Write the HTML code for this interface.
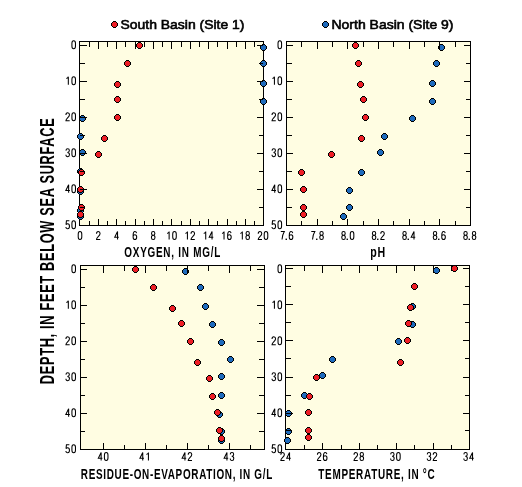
<!DOCTYPE html>
<html><head><meta charset="utf-8"><style>
html,body{margin:0;padding:0;background:#fff;}
svg{display:block;will-change:transform;}
</style></head><body>
<svg width="522" height="487" viewBox="0 0 522 487">
<rect width="522" height="487" fill="#fff"/>
<g shape-rendering="crispEdges"><rect x="79" y="41" width="185" height="185" fill="#fffde2"/><rect x="286" y="41" width="185" height="185" fill="#fffde2"/><rect x="80" y="265" width="185" height="185" fill="#fffde2"/><rect x="285" y="265" width="185" height="185" fill="#fffde2"/></g>
<g shape-rendering="crispEdges"><path d="M79.5,41.5H263.5V225.5H79.5Z" fill="none" stroke="#000"/><path d="M286.5,41.5H470.5V225.5H286.5Z" fill="none" stroke="#000"/><path d="M80.5,265.5H264.5V449.5H80.5Z" fill="none" stroke="#000"/><path d="M285.5,265.5H469.5V449.5H285.5Z" fill="none" stroke="#000"/></g>
<g shape-rendering="crispEdges"><path d="M262,44H265V45H266V46H267V49H266V50H265V51H262V50H261V49H260V46H261V45H262Z" fill="#000"/><path d="M262,45H265V46H266V49H265V50H262V49H261V46H262Z" fill="#1f6bbd"/>
<path d="M262,60H265V61H266V62H267V65H266V66H265V67H262V66H261V65H260V62H261V61H262Z" fill="#000"/><path d="M262,61H265V62H266V65H265V66H262V65H261V62H262Z" fill="#1f6bbd"/>
<path d="M262,80H265V81H266V82H267V85H266V86H265V87H262V86H261V85H260V82H261V81H262Z" fill="#000"/><path d="M262,81H265V82H266V85H265V86H262V85H261V82H262Z" fill="#1f6bbd"/>
<path d="M262,98H265V99H266V100H267V103H266V104H265V105H262V104H261V103H260V100H261V99H262Z" fill="#000"/><path d="M262,99H265V100H266V103H265V104H262V103H261V100H262Z" fill="#1f6bbd"/>
<path d="M81,115H84V116H85V117H86V120H85V121H84V122H81V121H80V120H79V117H80V116H81Z" fill="#000"/><path d="M81,116H84V117H85V120H84V121H81V120H80V117H81Z" fill="#1f6bbd"/>
<path d="M79,133H82V134H83V135H84V138H83V139H82V140H79V139H78V138H77V135H78V134H79Z" fill="#000"/><path d="M79,134H82V135H83V138H82V139H79V138H78V135H79Z" fill="#1f6bbd"/>
<path d="M81,149H84V150H85V151H86V154H85V155H84V156H81V155H80V154H79V151H80V150H81Z" fill="#000"/><path d="M81,150H84V151H85V154H84V155H81V154H80V151H81Z" fill="#1f6bbd"/>
<path d="M79,168H82V169H83V170H84V173H83V174H82V175H79V174H78V173H77V170H78V169H79Z" fill="#000"/><path d="M79,169H82V170H83V173H82V174H79V173H78V170H79Z" fill="#1f6bbd"/>
<path d="M79,188H82V189H83V190H84V193H83V194H82V195H79V194H78V193H77V190H78V189H79Z" fill="#000"/><path d="M79,189H82V190H83V193H82V194H79V193H78V190H79Z" fill="#1f6bbd"/>
<path d="M79,207H82V208H83V209H84V212H83V213H82V214H79V213H78V212H77V209H78V208H79Z" fill="#000"/><path d="M79,208H82V209H83V212H82V213H79V212H78V209H79Z" fill="#1f6bbd"/>
<path d="M79,213H82V214H83V215H84V218H83V219H82V220H79V219H78V218H77V215H78V214H79Z" fill="#000"/><path d="M79,214H82V215H83V218H82V219H79V218H78V215H79Z" fill="#1f6bbd"/>
<path d="M138,42H141V43H142V44H143V47H142V48H141V49H138V48H137V47H136V44H137V43H138Z" fill="#000"/><path d="M138,43H141V44H142V47H141V48H138V47H137V44H138Z" fill="#ee1f27"/>
<path d="M126,60H129V61H130V62H131V65H130V66H129V67H126V66H125V65H124V62H125V61H126Z" fill="#000"/><path d="M126,61H129V62H130V65H129V66H126V65H125V62H126Z" fill="#ee1f27"/>
<path d="M116,81H119V82H120V83H121V86H120V87H119V88H116V87H115V86H114V83H115V82H116Z" fill="#000"/><path d="M116,82H119V83H120V86H119V87H116V86H115V83H116Z" fill="#ee1f27"/>
<path d="M116,96H119V97H120V98H121V101H120V102H119V103H116V102H115V101H114V98H115V97H116Z" fill="#000"/><path d="M116,97H119V98H120V101H119V102H116V101H115V98H116Z" fill="#ee1f27"/>
<path d="M116,114H119V115H120V116H121V119H120V120H119V121H116V120H115V119H114V116H115V115H116Z" fill="#000"/><path d="M116,115H119V116H120V119H119V120H116V119H115V116H116Z" fill="#ee1f27"/>
<path d="M103,135H106V136H107V137H108V140H107V141H106V142H103V141H102V140H101V137H102V136H103Z" fill="#000"/><path d="M103,136H106V137H107V140H106V141H103V140H102V137H103Z" fill="#ee1f27"/>
<path d="M97,151H100V152H101V153H102V156H101V157H100V158H97V157H96V156H95V153H96V152H97Z" fill="#000"/><path d="M97,152H100V153H101V156H100V157H97V156H96V153H97Z" fill="#ee1f27"/>
<path d="M80,169H83V170H84V171H85V174H84V175H83V176H80V175H79V174H78V171H79V170H80Z" fill="#000"/><path d="M80,170H83V171H84V174H83V175H80V174H79V171H80Z" fill="#ee1f27"/>
<path d="M79,186H82V187H83V188H84V191H83V192H82V193H79V192H78V191H77V188H78V187H79Z" fill="#000"/><path d="M79,187H82V188H83V191H82V192H79V191H78V188H79Z" fill="#ee1f27"/>
<path d="M80,204H83V205H84V206H85V209H84V210H83V211H80V210H79V209H78V206H79V205H80Z" fill="#000"/><path d="M80,205H83V206H84V209H83V210H80V209H79V206H80Z" fill="#ee1f27"/>
<path d="M79,211H82V212H83V213H84V216H83V217H82V218H79V217H78V216H77V213H78V212H79Z" fill="#000"/><path d="M79,212H82V213H83V216H82V217H79V216H78V213H79Z" fill="#ee1f27"/>
<path d="M440,44H443V45H444V46H445V49H444V50H443V51H440V50H439V49H438V46H439V45H440Z" fill="#000"/><path d="M440,45H443V46H444V49H443V50H440V49H439V46H440Z" fill="#1f6bbd"/>
<path d="M435,60H438V61H439V62H440V65H439V66H438V67H435V66H434V65H433V62H434V61H435Z" fill="#000"/><path d="M435,61H438V62H439V65H438V66H435V65H434V62H435Z" fill="#1f6bbd"/>
<path d="M431,80H434V81H435V82H436V85H435V86H434V87H431V86H430V85H429V82H430V81H431Z" fill="#000"/><path d="M431,81H434V82H435V85H434V86H431V85H430V82H431Z" fill="#1f6bbd"/>
<path d="M431,98H434V99H435V100H436V103H435V104H434V105H431V104H430V103H429V100H430V99H431Z" fill="#000"/><path d="M431,99H434V100H435V103H434V104H431V103H430V100H431Z" fill="#1f6bbd"/>
<path d="M411,115H414V116H415V117H416V120H415V121H414V122H411V121H410V120H409V117H410V116H411Z" fill="#000"/><path d="M411,116H414V117H415V120H414V121H411V120H410V117H411Z" fill="#1f6bbd"/>
<path d="M383,133H386V134H387V135H388V138H387V139H386V140H383V139H382V138H381V135H382V134H383Z" fill="#000"/><path d="M383,134H386V135H387V138H386V139H383V138H382V135H383Z" fill="#1f6bbd"/>
<path d="M379,149H382V150H383V151H384V154H383V155H382V156H379V155H378V154H377V151H378V150H379Z" fill="#000"/><path d="M379,150H382V151H383V154H382V155H379V154H378V151H379Z" fill="#1f6bbd"/>
<path d="M360,169H363V170H364V171H365V174H364V175H363V176H360V175H359V174H358V171H359V170H360Z" fill="#000"/><path d="M360,170H363V171H364V174H363V175H360V174H359V171H360Z" fill="#1f6bbd"/>
<path d="M348,187H351V188H352V189H353V192H352V193H351V194H348V193H347V192H346V189H347V188H348Z" fill="#000"/><path d="M348,188H351V189H352V192H351V193H348V192H347V189H348Z" fill="#1f6bbd"/>
<path d="M348,204H351V205H352V206H353V209H352V210H351V211H348V210H347V209H346V206H347V205H348Z" fill="#000"/><path d="M348,205H351V206H352V209H351V210H348V209H347V206H348Z" fill="#1f6bbd"/>
<path d="M342,213H345V214H346V215H347V218H346V219H345V220H342V219H341V218H340V215H341V214H342Z" fill="#000"/><path d="M342,214H345V215H346V218H345V219H342V218H341V215H342Z" fill="#1f6bbd"/>
<path d="M354,42H357V43H358V44H359V47H358V48H357V49H354V48H353V47H352V44H353V43H354Z" fill="#000"/><path d="M354,43H357V44H358V47H357V48H354V47H353V44H354Z" fill="#ee1f27"/>
<path d="M357,60H360V61H361V62H362V65H361V66H360V67H357V66H356V65H355V62H356V61H357Z" fill="#000"/><path d="M357,61H360V62H361V65H360V66H357V65H356V62H357Z" fill="#ee1f27"/>
<path d="M359,81H362V82H363V83H364V86H363V87H362V88H359V87H358V86H357V83H358V82H359Z" fill="#000"/><path d="M359,82H362V83H363V86H362V87H359V86H358V83H359Z" fill="#ee1f27"/>
<path d="M362,96H365V97H366V98H367V101H366V102H365V103H362V102H361V101H360V98H361V97H362Z" fill="#000"/><path d="M362,97H365V98H366V101H365V102H362V101H361V98H362Z" fill="#ee1f27"/>
<path d="M364,114H367V115H368V116H369V119H368V120H367V121H364V120H363V119H362V116H363V115H364Z" fill="#000"/><path d="M364,115H367V116H368V119H367V120H364V119H363V116H364Z" fill="#ee1f27"/>
<path d="M360,135H363V136H364V137H365V140H364V141H363V142H360V141H359V140H358V137H359V136H360Z" fill="#000"/><path d="M360,136H363V137H364V140H363V141H360V140H359V137H360Z" fill="#ee1f27"/>
<path d="M330,151H333V152H334V153H335V156H334V157H333V158H330V157H329V156H328V153H329V152H330Z" fill="#000"/><path d="M330,152H333V153H334V156H333V157H330V156H329V153H330Z" fill="#ee1f27"/>
<path d="M300,169H303V170H304V171H305V174H304V175H303V176H300V175H299V174H298V171H299V170H300Z" fill="#000"/><path d="M300,170H303V171H304V174H303V175H300V174H299V171H300Z" fill="#ee1f27"/>
<path d="M302,186H305V187H306V188H307V191H306V192H305V193H302V192H301V191H300V188H301V187H302Z" fill="#000"/><path d="M302,187H305V188H306V191H305V192H302V191H301V188H302Z" fill="#ee1f27"/>
<path d="M302,204H305V205H306V206H307V209H306V210H305V211H302V210H301V209H300V206H301V205H302Z" fill="#000"/><path d="M302,205H305V206H306V209H305V210H302V209H301V206H302Z" fill="#ee1f27"/>
<path d="M302,211H305V212H306V213H307V216H306V217H305V218H302V217H301V216H300V213H301V212H302Z" fill="#000"/><path d="M302,212H305V213H306V216H305V217H302V216H301V213H302Z" fill="#ee1f27"/>
<path d="M184,268H187V269H188V270H189V273H188V274H187V275H184V274H183V273H182V270H183V269H184Z" fill="#000"/><path d="M184,269H187V270H188V273H187V274H184V273H183V270H184Z" fill="#1f6bbd"/>
<path d="M199,284H202V285H203V286H204V289H203V290H202V291H199V290H198V289H197V286H198V285H199Z" fill="#000"/><path d="M199,285H202V286H203V289H202V290H199V289H198V286H199Z" fill="#1f6bbd"/>
<path d="M204,303H207V304H208V305H209V308H208V309H207V310H204V309H203V308H202V305H203V304H204Z" fill="#000"/><path d="M204,304H207V305H208V308H207V309H204V308H203V305H204Z" fill="#1f6bbd"/>
<path d="M211,321H214V322H215V323H216V326H215V327H214V328H211V327H210V326H209V323H210V322H211Z" fill="#000"/><path d="M211,322H214V323H215V326H214V327H211V326H210V323H211Z" fill="#1f6bbd"/>
<path d="M220,339H223V340H224V341H225V344H224V345H223V346H220V345H219V344H218V341H219V340H220Z" fill="#000"/><path d="M220,340H223V341H224V344H223V345H220V344H219V341H220Z" fill="#1f6bbd"/>
<path d="M229,356H232V357H233V358H234V361H233V362H232V363H229V362H228V361H227V358H228V357H229Z" fill="#000"/><path d="M229,357H232V358H233V361H232V362H229V361H228V358H229Z" fill="#1f6bbd"/>
<path d="M220,373H223V374H224V375H225V378H224V379H223V380H220V379H219V378H218V375H219V374H220Z" fill="#000"/><path d="M220,374H223V375H224V378H223V379H220V378H219V375H220Z" fill="#1f6bbd"/>
<path d="M220,392H223V393H224V394H225V397H224V398H223V399H220V398H219V397H218V394H219V393H220Z" fill="#000"/><path d="M220,393H223V394H224V397H223V398H220V397H219V394H220Z" fill="#1f6bbd"/>
<path d="M218,411H221V412H222V413H223V416H222V417H221V418H218V417H217V416H216V413H217V412H218Z" fill="#000"/><path d="M218,412H221V413H222V416H221V417H218V416H217V413H218Z" fill="#1f6bbd"/>
<path d="M220,428H223V429H224V430H225V433H224V434H223V435H220V434H219V433H218V430H219V429H220Z" fill="#000"/><path d="M220,429H223V430H224V433H223V434H220V433H219V430H220Z" fill="#1f6bbd"/>
<path d="M220,437H223V438H224V439H225V442H224V443H223V444H220V443H219V442H218V439H219V438H220Z" fill="#000"/><path d="M220,438H223V439H224V442H223V443H220V442H219V439H220Z" fill="#1f6bbd"/>
<path d="M134,266H137V267H138V268H139V271H138V272H137V273H134V272H133V271H132V268H133V267H134Z" fill="#000"/><path d="M134,267H137V268H138V271H137V272H134V271H133V268H134Z" fill="#ee1f27"/>
<path d="M152,284H155V285H156V286H157V289H156V290H155V291H152V290H151V289H150V286H151V285H152Z" fill="#000"/><path d="M152,285H155V286H156V289H155V290H152V289H151V286H152Z" fill="#ee1f27"/>
<path d="M171,305H174V306H175V307H176V310H175V311H174V312H171V311H170V310H169V307H170V306H171Z" fill="#000"/><path d="M171,306H174V307H175V310H174V311H171V310H170V307H171Z" fill="#ee1f27"/>
<path d="M180,320H183V321H184V322H185V325H184V326H183V327H180V326H179V325H178V322H179V321H180Z" fill="#000"/><path d="M180,321H183V322H184V325H183V326H180V325H179V322H180Z" fill="#ee1f27"/>
<path d="M189,338H192V339H193V340H194V343H193V344H192V345H189V344H188V343H187V340H188V339H189Z" fill="#000"/><path d="M189,339H192V340H193V343H192V344H189V343H188V340H189Z" fill="#ee1f27"/>
<path d="M196,359H199V360H200V361H201V364H200V365H199V366H196V365H195V364H194V361H195V360H196Z" fill="#000"/><path d="M196,360H199V361H200V364H199V365H196V364H195V361H196Z" fill="#ee1f27"/>
<path d="M208,375H211V376H212V377H213V380H212V381H211V382H208V381H207V380H206V377H207V376H208Z" fill="#000"/><path d="M208,376H211V377H212V380H211V381H208V380H207V377H208Z" fill="#ee1f27"/>
<path d="M211,393H214V394H215V395H216V398H215V399H214V400H211V399H210V398H209V395H210V394H211Z" fill="#000"/><path d="M211,394H214V395H215V398H214V399H211V398H210V395H211Z" fill="#ee1f27"/>
<path d="M216,409H219V410H220V411H221V414H220V415H219V416H216V415H215V414H214V411H215V410H216Z" fill="#000"/><path d="M216,410H219V411H220V414H219V415H216V414H215V411H216Z" fill="#ee1f27"/>
<path d="M218,427H221V428H222V429H223V432H222V433H221V434H218V433H217V432H216V429H217V428H218Z" fill="#000"/><path d="M218,428H221V429H222V432H221V433H218V432H217V429H218Z" fill="#ee1f27"/>
<path d="M220,435H223V436H224V437H225V440H224V441H223V442H220V441H219V440H218V437H219V436H220Z" fill="#000"/><path d="M220,436H223V437H224V440H223V441H220V440H219V437H220Z" fill="#ee1f27"/>
<path d="M435,267H438V268H439V269H440V272H439V273H438V274H435V273H434V272H433V269H434V268H435Z" fill="#000"/><path d="M435,268H438V269H439V272H438V273H435V272H434V269H435Z" fill="#1f6bbd"/>
<path d="M411,303H414V304H415V305H416V308H415V309H414V310H411V309H410V308H409V305H410V304H411Z" fill="#000"/><path d="M411,304H414V305H415V308H414V309H411V308H410V305H411Z" fill="#1f6bbd"/>
<path d="M411,321H414V322H415V323H416V326H415V327H414V328H411V327H410V326H409V323H410V322H411Z" fill="#000"/><path d="M411,322H414V323H415V326H414V327H411V326H410V323H411Z" fill="#1f6bbd"/>
<path d="M397,338H400V339H401V340H402V343H401V344H400V345H397V344H396V343H395V340H396V339H397Z" fill="#000"/><path d="M397,339H400V340H401V343H400V344H397V343H396V340H397Z" fill="#1f6bbd"/>
<path d="M331,356H334V357H335V358H336V361H335V362H334V363H331V362H330V361H329V358H330V357H331Z" fill="#000"/><path d="M331,357H334V358H335V361H334V362H331V361H330V358H331Z" fill="#1f6bbd"/>
<path d="M303,392H306V393H307V394H308V397H307V398H306V399H303V398H302V397H301V394H302V393H303Z" fill="#000"/><path d="M303,393H306V394H307V397H306V398H303V397H302V394H303Z" fill="#1f6bbd"/>
<path d="M287,410H290V411H291V412H292V415H291V416H290V417H287V416H286V415H285V412H286V411H287Z" fill="#000"/><path d="M287,411H290V412H291V415H290V416H287V415H286V412H287Z" fill="#1f6bbd"/>
<path d="M287,428H290V429H291V430H292V433H291V434H290V435H287V434H286V433H285V430H286V429H287Z" fill="#000"/><path d="M287,429H290V430H291V433H290V434H287V433H286V430H287Z" fill="#1f6bbd"/>
<path d="M286,437H289V438H290V439H291V442H290V443H289V444H286V443H285V442H284V439H285V438H286Z" fill="#000"/><path d="M286,438H289V439H290V442H289V443H286V442H285V439H286Z" fill="#1f6bbd"/>
<path d="M453,265H456V266H457V267H458V270H457V271H456V272H453V271H452V270H451V267H452V266H453Z" fill="#000"/><path d="M453,266H456V267H457V270H456V271H453V270H452V267H453Z" fill="#ee1f27"/>
<path d="M413,283H416V284H417V285H418V288H417V289H416V290H413V289H412V288H411V285H412V284H413Z" fill="#000"/><path d="M413,284H416V285H417V288H416V289H413V288H412V285H413Z" fill="#ee1f27"/>
<path d="M409,304H412V305H413V306H414V309H413V310H412V311H409V310H408V309H407V306H408V305H409Z" fill="#000"/><path d="M409,305H412V306H413V309H412V310H409V309H408V306H409Z" fill="#ee1f27"/>
<path d="M407,320H410V321H411V322H412V325H411V326H410V327H407V326H406V325H405V322H406V321H407Z" fill="#000"/><path d="M407,321H410V322H411V325H410V326H407V325H406V322H407Z" fill="#ee1f27"/>
<path d="M406,337H409V338H410V339H411V342H410V343H409V344H406V343H405V342H404V339H405V338H406Z" fill="#000"/><path d="M406,338H409V339H410V342H409V343H406V342H405V339H406Z" fill="#ee1f27"/>
<path d="M399,359H402V360H403V361H404V364H403V365H402V366H399V365H398V364H397V361H398V360H399Z" fill="#000"/><path d="M399,360H402V361H403V364H402V365H399V364H398V361H399Z" fill="#ee1f27"/>
<path d="M315,374H318V375H319V376H320V379H319V380H318V381H315V380H314V379H313V376H314V375H315Z" fill="#000"/><path d="M315,375H318V376H319V379H318V380H315V379H314V376H315Z" fill="#ee1f27"/>
<path d="M308,393H311V394H312V395H313V398H312V399H311V400H308V399H307V398H306V395H307V394H308Z" fill="#000"/><path d="M308,394H311V395H312V398H311V399H308V398H307V395H308Z" fill="#ee1f27"/>
<path d="M307,409H310V410H311V411H312V414H311V415H310V416H307V415H306V414H305V411H306V410H307Z" fill="#000"/><path d="M307,410H310V411H311V414H310V415H307V414H306V411H307Z" fill="#ee1f27"/>
<path d="M307,427H310V428H311V429H312V432H311V433H310V434H307V433H306V432H305V429H306V428H307Z" fill="#000"/><path d="M307,428H310V429H311V432H310V433H307V432H306V429H307Z" fill="#ee1f27"/>
<path d="M307,434H310V435H311V436H312V439H311V440H310V441H307V440H306V439H305V436H306V435H307Z" fill="#000"/><path d="M307,435H310V436H311V439H310V440H307V439H306V436H307Z" fill="#ee1f27"/>
<path d="M321,372H324V373H325V374H326V377H325V378H324V379H321V378H320V377H319V374H320V373H321Z" fill="#000"/><path d="M321,373H324V374H325V377H324V378H321V377H320V374H321Z" fill="#1f6bbd"/></g>
<g shape-rendering="crispEdges" fill="#000"><rect x="80" y="45" width="7" height="1"/>
<rect x="257" y="45" width="6" height="1"/>
<rect x="80" y="63" width="5" height="1"/>
<rect x="259" y="63" width="4" height="1"/>
<rect x="80" y="81" width="7" height="1"/>
<rect x="257" y="81" width="6" height="1"/>
<rect x="80" y="99" width="5" height="1"/>
<rect x="259" y="99" width="4" height="1"/>
<rect x="80" y="117" width="7" height="1"/>
<rect x="257" y="117" width="6" height="1"/>
<rect x="80" y="135" width="5" height="1"/>
<rect x="259" y="135" width="4" height="1"/>
<rect x="80" y="153" width="7" height="1"/>
<rect x="257" y="153" width="6" height="1"/>
<rect x="80" y="171" width="5" height="1"/>
<rect x="259" y="171" width="4" height="1"/>
<rect x="80" y="189" width="7" height="1"/>
<rect x="257" y="189" width="6" height="1"/>
<rect x="80" y="207" width="5" height="1"/>
<rect x="259" y="207" width="4" height="1"/>
<rect x="89" y="42" width="1" height="5"/>
<rect x="89" y="221" width="1" height="4"/>
<rect x="98" y="42" width="1" height="7"/>
<rect x="98" y="219" width="1" height="6"/>
<rect x="107" y="42" width="1" height="5"/>
<rect x="107" y="221" width="1" height="4"/>
<rect x="116" y="42" width="1" height="7"/>
<rect x="116" y="219" width="1" height="6"/>
<rect x="125" y="42" width="1" height="5"/>
<rect x="125" y="221" width="1" height="4"/>
<rect x="135" y="42" width="1" height="7"/>
<rect x="135" y="219" width="1" height="6"/>
<rect x="144" y="42" width="1" height="5"/>
<rect x="144" y="221" width="1" height="4"/>
<rect x="153" y="42" width="1" height="7"/>
<rect x="153" y="219" width="1" height="6"/>
<rect x="162" y="42" width="1" height="5"/>
<rect x="162" y="221" width="1" height="4"/>
<rect x="171" y="42" width="1" height="7"/>
<rect x="171" y="219" width="1" height="6"/>
<rect x="181" y="42" width="1" height="5"/>
<rect x="181" y="221" width="1" height="4"/>
<rect x="190" y="42" width="1" height="7"/>
<rect x="190" y="219" width="1" height="6"/>
<rect x="199" y="42" width="1" height="5"/>
<rect x="199" y="221" width="1" height="4"/>
<rect x="208" y="42" width="1" height="7"/>
<rect x="208" y="219" width="1" height="6"/>
<rect x="217" y="42" width="1" height="5"/>
<rect x="217" y="221" width="1" height="4"/>
<rect x="227" y="42" width="1" height="7"/>
<rect x="227" y="219" width="1" height="6"/>
<rect x="236" y="42" width="1" height="5"/>
<rect x="236" y="221" width="1" height="4"/>
<rect x="245" y="42" width="1" height="7"/>
<rect x="245" y="219" width="1" height="6"/>
<rect x="254" y="42" width="1" height="5"/>
<rect x="254" y="221" width="1" height="4"/>
<rect x="287" y="45" width="6" height="1"/>
<rect x="464" y="45" width="6" height="1"/>
<rect x="287" y="63" width="5" height="1"/>
<rect x="466" y="63" width="4" height="1"/>
<rect x="287" y="81" width="6" height="1"/>
<rect x="464" y="81" width="6" height="1"/>
<rect x="287" y="99" width="5" height="1"/>
<rect x="466" y="99" width="4" height="1"/>
<rect x="287" y="117" width="6" height="1"/>
<rect x="464" y="117" width="6" height="1"/>
<rect x="287" y="135" width="5" height="1"/>
<rect x="466" y="135" width="4" height="1"/>
<rect x="287" y="153" width="6" height="1"/>
<rect x="464" y="153" width="6" height="1"/>
<rect x="287" y="171" width="5" height="1"/>
<rect x="466" y="171" width="4" height="1"/>
<rect x="287" y="189" width="6" height="1"/>
<rect x="464" y="189" width="6" height="1"/>
<rect x="287" y="207" width="5" height="1"/>
<rect x="466" y="207" width="4" height="1"/>
<rect x="301" y="42" width="1" height="5"/>
<rect x="301" y="221" width="1" height="4"/>
<rect x="317" y="42" width="1" height="7"/>
<rect x="317" y="219" width="1" height="6"/>
<rect x="332" y="42" width="1" height="5"/>
<rect x="332" y="221" width="1" height="4"/>
<rect x="347" y="42" width="1" height="7"/>
<rect x="347" y="219" width="1" height="6"/>
<rect x="363" y="42" width="1" height="5"/>
<rect x="363" y="221" width="1" height="4"/>
<rect x="378" y="42" width="1" height="7"/>
<rect x="378" y="219" width="1" height="6"/>
<rect x="393" y="42" width="1" height="5"/>
<rect x="393" y="221" width="1" height="4"/>
<rect x="409" y="42" width="1" height="7"/>
<rect x="409" y="219" width="1" height="6"/>
<rect x="424" y="42" width="1" height="5"/>
<rect x="424" y="221" width="1" height="4"/>
<rect x="439" y="42" width="1" height="7"/>
<rect x="439" y="219" width="1" height="6"/>
<rect x="455" y="42" width="1" height="5"/>
<rect x="455" y="221" width="1" height="4"/>
<rect x="81" y="269" width="6" height="1"/>
<rect x="257" y="269" width="7" height="1"/>
<rect x="81" y="287" width="4" height="1"/>
<rect x="259" y="287" width="5" height="1"/>
<rect x="81" y="305" width="6" height="1"/>
<rect x="257" y="305" width="7" height="1"/>
<rect x="81" y="323" width="4" height="1"/>
<rect x="259" y="323" width="5" height="1"/>
<rect x="81" y="341" width="6" height="1"/>
<rect x="257" y="341" width="7" height="1"/>
<rect x="81" y="359" width="4" height="1"/>
<rect x="259" y="359" width="5" height="1"/>
<rect x="81" y="377" width="6" height="1"/>
<rect x="257" y="377" width="7" height="1"/>
<rect x="81" y="395" width="4" height="1"/>
<rect x="259" y="395" width="5" height="1"/>
<rect x="81" y="413" width="6" height="1"/>
<rect x="257" y="413" width="7" height="1"/>
<rect x="81" y="431" width="4" height="1"/>
<rect x="259" y="431" width="5" height="1"/>
<rect x="103" y="266" width="1" height="7"/>
<rect x="103" y="443" width="1" height="6"/>
<rect x="124" y="266" width="1" height="5"/>
<rect x="124" y="445" width="1" height="4"/>
<rect x="145" y="266" width="1" height="7"/>
<rect x="145" y="443" width="1" height="6"/>
<rect x="166" y="266" width="1" height="5"/>
<rect x="166" y="445" width="1" height="4"/>
<rect x="187" y="266" width="1" height="7"/>
<rect x="187" y="443" width="1" height="6"/>
<rect x="208" y="266" width="1" height="5"/>
<rect x="208" y="445" width="1" height="4"/>
<rect x="229" y="266" width="1" height="7"/>
<rect x="229" y="443" width="1" height="6"/>
<rect x="250" y="266" width="1" height="5"/>
<rect x="250" y="445" width="1" height="4"/>
<rect x="286" y="268" width="7" height="1"/>
<rect x="463" y="268" width="6" height="1"/>
<rect x="286" y="286" width="5" height="1"/>
<rect x="465" y="286" width="4" height="1"/>
<rect x="286" y="304" width="7" height="1"/>
<rect x="463" y="304" width="6" height="1"/>
<rect x="286" y="322" width="5" height="1"/>
<rect x="465" y="322" width="4" height="1"/>
<rect x="286" y="340" width="7" height="1"/>
<rect x="463" y="340" width="6" height="1"/>
<rect x="286" y="358" width="5" height="1"/>
<rect x="465" y="358" width="4" height="1"/>
<rect x="286" y="377" width="7" height="1"/>
<rect x="463" y="377" width="6" height="1"/>
<rect x="286" y="395" width="5" height="1"/>
<rect x="465" y="395" width="4" height="1"/>
<rect x="286" y="413" width="7" height="1"/>
<rect x="463" y="413" width="6" height="1"/>
<rect x="286" y="430" width="5" height="1"/>
<rect x="465" y="430" width="4" height="1"/>
<rect x="304" y="266" width="1" height="5"/>
<rect x="304" y="445" width="1" height="4"/>
<rect x="322" y="266" width="1" height="7"/>
<rect x="322" y="443" width="1" height="6"/>
<rect x="341" y="266" width="1" height="5"/>
<rect x="341" y="445" width="1" height="4"/>
<rect x="359" y="266" width="1" height="7"/>
<rect x="359" y="443" width="1" height="6"/>
<rect x="377" y="266" width="1" height="5"/>
<rect x="377" y="445" width="1" height="4"/>
<rect x="396" y="266" width="1" height="7"/>
<rect x="396" y="443" width="1" height="6"/>
<rect x="414" y="266" width="1" height="5"/>
<rect x="414" y="445" width="1" height="4"/>
<rect x="433" y="266" width="1" height="7"/>
<rect x="433" y="443" width="1" height="6"/>
<rect x="451" y="266" width="1" height="5"/>
<rect x="451" y="445" width="1" height="4"/></g>
<g font-family="Liberation Sans" fill="#000"><g fill="none" stroke="#000" stroke-width="1.0"><path transform="translate(71.40,40.20) scale(1.045,1)" d="M2.2,0.5C3.4,0.5 3.9,1.5 3.9,3V6C3.9,7.5 3.4,8.5 2.2,8.5C1,8.5 0.5,7.5 0.5,6V3C0.5,1.5 1,0.5 2.2,0.5Z"/></g>
<g fill="none" stroke="#000" stroke-width="1.0"><path transform="translate(65.40,76.20) scale(1.045,1)" d="M0.9,2.4C1.9,2.1 2.6,1.4 2.8,0.5V8.5"/><path transform="translate(71.40,76.20) scale(1.045,1)" d="M2.2,0.5C3.4,0.5 3.9,1.5 3.9,3V6C3.9,7.5 3.4,8.5 2.2,8.5C1,8.5 0.5,7.5 0.5,6V3C0.5,1.5 1,0.5 2.2,0.5Z"/></g>
<g fill="none" stroke="#000" stroke-width="1.0"><path transform="translate(65.40,112.20) scale(1.045,1)" d="M0.5,2.7C0.5,1.2 1.2,0.5 2.2,0.5C3.3,0.5 3.9,1.2 3.9,2.5C3.9,3.9 3.1,4.7 2.1,5.7C1.1,6.7 0.5,7.4 0.5,8.5H4.1"/><path transform="translate(71.40,112.20) scale(1.045,1)" d="M2.2,0.5C3.4,0.5 3.9,1.5 3.9,3V6C3.9,7.5 3.4,8.5 2.2,8.5C1,8.5 0.5,7.5 0.5,6V3C0.5,1.5 1,0.5 2.2,0.5Z"/></g>
<g fill="none" stroke="#000" stroke-width="1.0"><path transform="translate(65.40,148.20) scale(1.045,1)" d="M0.5,2.4C0.6,1.1 1.2,0.5 2.2,0.5C3.3,0.5 3.8,1.2 3.8,2.4C3.8,3.6 3.2,4.3 1.9,4.3M1.9,4.3C3.3,4.3 3.9,5.1 3.9,6.4C3.9,7.8 3.3,8.5 2.2,8.5C1.1,8.5 0.5,7.8 0.5,6.5"/><path transform="translate(71.40,148.20) scale(1.045,1)" d="M2.2,0.5C3.4,0.5 3.9,1.5 3.9,3V6C3.9,7.5 3.4,8.5 2.2,8.5C1,8.5 0.5,7.5 0.5,6V3C0.5,1.5 1,0.5 2.2,0.5Z"/></g>
<g fill="none" stroke="#000" stroke-width="1.0"><path transform="translate(65.40,184.20) scale(1.045,1)" d="M3.1,8.5V0.5L0.4,6.3H4.3"/><path transform="translate(71.40,184.20) scale(1.045,1)" d="M2.2,0.5C3.4,0.5 3.9,1.5 3.9,3V6C3.9,7.5 3.4,8.5 2.2,8.5C1,8.5 0.5,7.5 0.5,6V3C0.5,1.5 1,0.5 2.2,0.5Z"/></g>
<g fill="none" stroke="#000" stroke-width="1.0"><path transform="translate(65.40,220.20) scale(1.045,1)" d="M3.8,0.5H1.0L0.6,4.4C1.0,3.8 1.5,3.5 2.2,3.5C3.3,3.5 3.9,4.5 3.9,6C3.9,7.6 3.3,8.5 2.2,8.5C1.1,8.5 0.5,7.8 0.5,6.8"/><path transform="translate(71.40,220.20) scale(1.045,1)" d="M2.2,0.5C3.4,0.5 3.9,1.5 3.9,3V6C3.9,7.5 3.4,8.5 2.2,8.5C1,8.5 0.5,7.5 0.5,6V3C0.5,1.5 1,0.5 2.2,0.5Z"/></g>
<g fill="none" stroke="#000" stroke-width="1.0"><path transform="translate(277.50,40.20) scale(1.045,1)" d="M2.2,0.5C3.4,0.5 3.9,1.5 3.9,3V6C3.9,7.5 3.4,8.5 2.2,8.5C1,8.5 0.5,7.5 0.5,6V3C0.5,1.5 1,0.5 2.2,0.5Z"/></g>
<g fill="none" stroke="#000" stroke-width="1.0"><path transform="translate(271.50,76.20) scale(1.045,1)" d="M0.9,2.4C1.9,2.1 2.6,1.4 2.8,0.5V8.5"/><path transform="translate(277.50,76.20) scale(1.045,1)" d="M2.2,0.5C3.4,0.5 3.9,1.5 3.9,3V6C3.9,7.5 3.4,8.5 2.2,8.5C1,8.5 0.5,7.5 0.5,6V3C0.5,1.5 1,0.5 2.2,0.5Z"/></g>
<g fill="none" stroke="#000" stroke-width="1.0"><path transform="translate(271.50,112.20) scale(1.045,1)" d="M0.5,2.7C0.5,1.2 1.2,0.5 2.2,0.5C3.3,0.5 3.9,1.2 3.9,2.5C3.9,3.9 3.1,4.7 2.1,5.7C1.1,6.7 0.5,7.4 0.5,8.5H4.1"/><path transform="translate(277.50,112.20) scale(1.045,1)" d="M2.2,0.5C3.4,0.5 3.9,1.5 3.9,3V6C3.9,7.5 3.4,8.5 2.2,8.5C1,8.5 0.5,7.5 0.5,6V3C0.5,1.5 1,0.5 2.2,0.5Z"/></g>
<g fill="none" stroke="#000" stroke-width="1.0"><path transform="translate(271.50,148.20) scale(1.045,1)" d="M0.5,2.4C0.6,1.1 1.2,0.5 2.2,0.5C3.3,0.5 3.8,1.2 3.8,2.4C3.8,3.6 3.2,4.3 1.9,4.3M1.9,4.3C3.3,4.3 3.9,5.1 3.9,6.4C3.9,7.8 3.3,8.5 2.2,8.5C1.1,8.5 0.5,7.8 0.5,6.5"/><path transform="translate(277.50,148.20) scale(1.045,1)" d="M2.2,0.5C3.4,0.5 3.9,1.5 3.9,3V6C3.9,7.5 3.4,8.5 2.2,8.5C1,8.5 0.5,7.5 0.5,6V3C0.5,1.5 1,0.5 2.2,0.5Z"/></g>
<g fill="none" stroke="#000" stroke-width="1.0"><path transform="translate(271.50,184.20) scale(1.045,1)" d="M3.1,8.5V0.5L0.4,6.3H4.3"/><path transform="translate(277.50,184.20) scale(1.045,1)" d="M2.2,0.5C3.4,0.5 3.9,1.5 3.9,3V6C3.9,7.5 3.4,8.5 2.2,8.5C1,8.5 0.5,7.5 0.5,6V3C0.5,1.5 1,0.5 2.2,0.5Z"/></g>
<g fill="none" stroke="#000" stroke-width="1.0"><path transform="translate(271.50,220.20) scale(1.045,1)" d="M3.8,0.5H1.0L0.6,4.4C1.0,3.8 1.5,3.5 2.2,3.5C3.3,3.5 3.9,4.5 3.9,6C3.9,7.6 3.3,8.5 2.2,8.5C1.1,8.5 0.5,7.8 0.5,6.8"/><path transform="translate(277.50,220.20) scale(1.045,1)" d="M2.2,0.5C3.4,0.5 3.9,1.5 3.9,3V6C3.9,7.5 3.4,8.5 2.2,8.5C1,8.5 0.5,7.5 0.5,6V3C0.5,1.5 1,0.5 2.2,0.5Z"/></g>
<g fill="none" stroke="#000" stroke-width="1.0"><path transform="translate(71.40,264.20) scale(1.045,1)" d="M2.2,0.5C3.4,0.5 3.9,1.5 3.9,3V6C3.9,7.5 3.4,8.5 2.2,8.5C1,8.5 0.5,7.5 0.5,6V3C0.5,1.5 1,0.5 2.2,0.5Z"/></g>
<g fill="none" stroke="#000" stroke-width="1.0"><path transform="translate(65.40,300.20) scale(1.045,1)" d="M0.9,2.4C1.9,2.1 2.6,1.4 2.8,0.5V8.5"/><path transform="translate(71.40,300.20) scale(1.045,1)" d="M2.2,0.5C3.4,0.5 3.9,1.5 3.9,3V6C3.9,7.5 3.4,8.5 2.2,8.5C1,8.5 0.5,7.5 0.5,6V3C0.5,1.5 1,0.5 2.2,0.5Z"/></g>
<g fill="none" stroke="#000" stroke-width="1.0"><path transform="translate(65.40,336.20) scale(1.045,1)" d="M0.5,2.7C0.5,1.2 1.2,0.5 2.2,0.5C3.3,0.5 3.9,1.2 3.9,2.5C3.9,3.9 3.1,4.7 2.1,5.7C1.1,6.7 0.5,7.4 0.5,8.5H4.1"/><path transform="translate(71.40,336.20) scale(1.045,1)" d="M2.2,0.5C3.4,0.5 3.9,1.5 3.9,3V6C3.9,7.5 3.4,8.5 2.2,8.5C1,8.5 0.5,7.5 0.5,6V3C0.5,1.5 1,0.5 2.2,0.5Z"/></g>
<g fill="none" stroke="#000" stroke-width="1.0"><path transform="translate(65.40,372.20) scale(1.045,1)" d="M0.5,2.4C0.6,1.1 1.2,0.5 2.2,0.5C3.3,0.5 3.8,1.2 3.8,2.4C3.8,3.6 3.2,4.3 1.9,4.3M1.9,4.3C3.3,4.3 3.9,5.1 3.9,6.4C3.9,7.8 3.3,8.5 2.2,8.5C1.1,8.5 0.5,7.8 0.5,6.5"/><path transform="translate(71.40,372.20) scale(1.045,1)" d="M2.2,0.5C3.4,0.5 3.9,1.5 3.9,3V6C3.9,7.5 3.4,8.5 2.2,8.5C1,8.5 0.5,7.5 0.5,6V3C0.5,1.5 1,0.5 2.2,0.5Z"/></g>
<g fill="none" stroke="#000" stroke-width="1.0"><path transform="translate(65.40,408.20) scale(1.045,1)" d="M3.1,8.5V0.5L0.4,6.3H4.3"/><path transform="translate(71.40,408.20) scale(1.045,1)" d="M2.2,0.5C3.4,0.5 3.9,1.5 3.9,3V6C3.9,7.5 3.4,8.5 2.2,8.5C1,8.5 0.5,7.5 0.5,6V3C0.5,1.5 1,0.5 2.2,0.5Z"/></g>
<g fill="none" stroke="#000" stroke-width="1.0"><path transform="translate(65.40,444.20) scale(1.045,1)" d="M3.8,0.5H1.0L0.6,4.4C1.0,3.8 1.5,3.5 2.2,3.5C3.3,3.5 3.9,4.5 3.9,6C3.9,7.6 3.3,8.5 2.2,8.5C1.1,8.5 0.5,7.8 0.5,6.8"/><path transform="translate(71.40,444.20) scale(1.045,1)" d="M2.2,0.5C3.4,0.5 3.9,1.5 3.9,3V6C3.9,7.5 3.4,8.5 2.2,8.5C1,8.5 0.5,7.5 0.5,6V3C0.5,1.5 1,0.5 2.2,0.5Z"/></g>
<g fill="none" stroke="#000" stroke-width="1.0"><path transform="translate(277.50,264.20) scale(1.045,1)" d="M2.2,0.5C3.4,0.5 3.9,1.5 3.9,3V6C3.9,7.5 3.4,8.5 2.2,8.5C1,8.5 0.5,7.5 0.5,6V3C0.5,1.5 1,0.5 2.2,0.5Z"/></g>
<g fill="none" stroke="#000" stroke-width="1.0"><path transform="translate(271.50,300.20) scale(1.045,1)" d="M0.9,2.4C1.9,2.1 2.6,1.4 2.8,0.5V8.5"/><path transform="translate(277.50,300.20) scale(1.045,1)" d="M2.2,0.5C3.4,0.5 3.9,1.5 3.9,3V6C3.9,7.5 3.4,8.5 2.2,8.5C1,8.5 0.5,7.5 0.5,6V3C0.5,1.5 1,0.5 2.2,0.5Z"/></g>
<g fill="none" stroke="#000" stroke-width="1.0"><path transform="translate(271.50,336.20) scale(1.045,1)" d="M0.5,2.7C0.5,1.2 1.2,0.5 2.2,0.5C3.3,0.5 3.9,1.2 3.9,2.5C3.9,3.9 3.1,4.7 2.1,5.7C1.1,6.7 0.5,7.4 0.5,8.5H4.1"/><path transform="translate(277.50,336.20) scale(1.045,1)" d="M2.2,0.5C3.4,0.5 3.9,1.5 3.9,3V6C3.9,7.5 3.4,8.5 2.2,8.5C1,8.5 0.5,7.5 0.5,6V3C0.5,1.5 1,0.5 2.2,0.5Z"/></g>
<g fill="none" stroke="#000" stroke-width="1.0"><path transform="translate(271.50,372.20) scale(1.045,1)" d="M0.5,2.4C0.6,1.1 1.2,0.5 2.2,0.5C3.3,0.5 3.8,1.2 3.8,2.4C3.8,3.6 3.2,4.3 1.9,4.3M1.9,4.3C3.3,4.3 3.9,5.1 3.9,6.4C3.9,7.8 3.3,8.5 2.2,8.5C1.1,8.5 0.5,7.8 0.5,6.5"/><path transform="translate(277.50,372.20) scale(1.045,1)" d="M2.2,0.5C3.4,0.5 3.9,1.5 3.9,3V6C3.9,7.5 3.4,8.5 2.2,8.5C1,8.5 0.5,7.5 0.5,6V3C0.5,1.5 1,0.5 2.2,0.5Z"/></g>
<g fill="none" stroke="#000" stroke-width="1.0"><path transform="translate(271.50,408.20) scale(1.045,1)" d="M3.1,8.5V0.5L0.4,6.3H4.3"/><path transform="translate(277.50,408.20) scale(1.045,1)" d="M2.2,0.5C3.4,0.5 3.9,1.5 3.9,3V6C3.9,7.5 3.4,8.5 2.2,8.5C1,8.5 0.5,7.5 0.5,6V3C0.5,1.5 1,0.5 2.2,0.5Z"/></g>
<g fill="none" stroke="#000" stroke-width="1.0"><path transform="translate(271.50,444.20) scale(1.045,1)" d="M3.8,0.5H1.0L0.6,4.4C1.0,3.8 1.5,3.5 2.2,3.5C3.3,3.5 3.9,4.5 3.9,6C3.9,7.6 3.3,8.5 2.2,8.5C1.1,8.5 0.5,7.8 0.5,6.8"/><path transform="translate(277.50,444.20) scale(1.045,1)" d="M2.2,0.5C3.4,0.5 3.9,1.5 3.9,3V6C3.9,7.5 3.4,8.5 2.2,8.5C1,8.5 0.5,7.5 0.5,6V3C0.5,1.5 1,0.5 2.2,0.5Z"/></g>
<g fill="none" stroke="#000" stroke-width="1.0"><path transform="translate(77.70,231.00) scale(1.045,1)" d="M2.2,0.5C3.4,0.5 3.9,1.5 3.9,3V6C3.9,7.5 3.4,8.5 2.2,8.5C1,8.5 0.5,7.5 0.5,6V3C0.5,1.5 1,0.5 2.2,0.5Z"/></g>
<g fill="none" stroke="#000" stroke-width="1.0"><path transform="translate(96.00,231.00) scale(1.045,1)" d="M0.5,2.7C0.5,1.2 1.2,0.5 2.2,0.5C3.3,0.5 3.9,1.2 3.9,2.5C3.9,3.9 3.1,4.7 2.1,5.7C1.1,6.7 0.5,7.4 0.5,8.5H4.1"/></g>
<g fill="none" stroke="#000" stroke-width="1.0"><path transform="translate(114.30,231.00) scale(1.045,1)" d="M3.1,8.5V0.5L0.4,6.3H4.3"/></g>
<g fill="none" stroke="#000" stroke-width="1.0"><path transform="translate(132.60,231.00) scale(1.045,1)" d="M3.8,2.2C3.6,1.1 3.1,0.5 2.2,0.5C1,0.5 0.5,2 0.5,4.5V6.2C0.5,7.7 1.1,8.5 2.2,8.5C3.3,8.5 3.9,7.7 3.9,6.2V5.8C3.9,4.4 3.3,3.7 2.2,3.7C1.2,3.7 0.6,4.4 0.5,5.2"/></g>
<g fill="none" stroke="#000" stroke-width="1.0"><path transform="translate(150.90,231.00) scale(1.045,1)" d="M2.2,4.3C1.1,4.3 0.6,3.6 0.6,2.4C0.6,1.2 1.2,0.5 2.2,0.5C3.2,0.5 3.8,1.2 3.8,2.4C3.8,3.6 3.3,4.3 2.2,4.3C1.1,4.3 0.5,5.1 0.5,6.4C0.5,7.8 1.1,8.5 2.2,8.5C3.3,8.5 3.9,7.8 3.9,6.4C3.9,5.1 3.3,4.3 2.2,4.3Z"/></g>
<g fill="none" stroke="#000" stroke-width="1.0"><path transform="translate(166.20,231.00) scale(1.045,1)" d="M0.9,2.4C1.9,2.1 2.6,1.4 2.8,0.5V8.5"/><path transform="translate(172.20,231.00) scale(1.045,1)" d="M2.2,0.5C3.4,0.5 3.9,1.5 3.9,3V6C3.9,7.5 3.4,8.5 2.2,8.5C1,8.5 0.5,7.5 0.5,6V3C0.5,1.5 1,0.5 2.2,0.5Z"/></g>
<g fill="none" stroke="#000" stroke-width="1.0"><path transform="translate(184.50,231.00) scale(1.045,1)" d="M0.9,2.4C1.9,2.1 2.6,1.4 2.8,0.5V8.5"/><path transform="translate(190.50,231.00) scale(1.045,1)" d="M0.5,2.7C0.5,1.2 1.2,0.5 2.2,0.5C3.3,0.5 3.9,1.2 3.9,2.5C3.9,3.9 3.1,4.7 2.1,5.7C1.1,6.7 0.5,7.4 0.5,8.5H4.1"/></g>
<g fill="none" stroke="#000" stroke-width="1.0"><path transform="translate(202.80,231.00) scale(1.045,1)" d="M0.9,2.4C1.9,2.1 2.6,1.4 2.8,0.5V8.5"/><path transform="translate(208.80,231.00) scale(1.045,1)" d="M3.1,8.5V0.5L0.4,6.3H4.3"/></g>
<g fill="none" stroke="#000" stroke-width="1.0"><path transform="translate(221.10,231.00) scale(1.045,1)" d="M0.9,2.4C1.9,2.1 2.6,1.4 2.8,0.5V8.5"/><path transform="translate(227.10,231.00) scale(1.045,1)" d="M3.8,2.2C3.6,1.1 3.1,0.5 2.2,0.5C1,0.5 0.5,2 0.5,4.5V6.2C0.5,7.7 1.1,8.5 2.2,8.5C3.3,8.5 3.9,7.7 3.9,6.2V5.8C3.9,4.4 3.3,3.7 2.2,3.7C1.2,3.7 0.6,4.4 0.5,5.2"/></g>
<g fill="none" stroke="#000" stroke-width="1.0"><path transform="translate(239.40,231.00) scale(1.045,1)" d="M0.9,2.4C1.9,2.1 2.6,1.4 2.8,0.5V8.5"/><path transform="translate(245.40,231.00) scale(1.045,1)" d="M2.2,4.3C1.1,4.3 0.6,3.6 0.6,2.4C0.6,1.2 1.2,0.5 2.2,0.5C3.2,0.5 3.8,1.2 3.8,2.4C3.8,3.6 3.3,4.3 2.2,4.3C1.1,4.3 0.5,5.1 0.5,6.4C0.5,7.8 1.1,8.5 2.2,8.5C3.3,8.5 3.9,7.8 3.9,6.4C3.9,5.1 3.3,4.3 2.2,4.3Z"/></g>
<g fill="none" stroke="#000" stroke-width="1.0"><path transform="translate(257.70,231.00) scale(1.045,1)" d="M0.5,2.7C0.5,1.2 1.2,0.5 2.2,0.5C3.3,0.5 3.9,1.2 3.9,2.5C3.9,3.9 3.1,4.7 2.1,5.7C1.1,6.7 0.5,7.4 0.5,8.5H4.1"/><path transform="translate(263.70,231.00) scale(1.045,1)" d="M2.2,0.5C3.4,0.5 3.9,1.5 3.9,3V6C3.9,7.5 3.4,8.5 2.2,8.5C1,8.5 0.5,7.5 0.5,6V3C0.5,1.5 1,0.5 2.2,0.5Z"/></g>
<g fill="none" stroke="#000" stroke-width="1.0"><path transform="translate(280.25,231.00) scale(1.045,1)" d="M0.5,0.5H3.9C2.6,2.8 1.8,5.5 1.7,8.5"/><path transform="translate(288.75,231.00) scale(1.045,1)" d="M3.8,2.2C3.6,1.1 3.1,0.5 2.2,0.5C1,0.5 0.5,2 0.5,4.5V6.2C0.5,7.7 1.1,8.5 2.2,8.5C3.3,8.5 3.9,7.7 3.9,6.2V5.8C3.9,4.4 3.3,3.7 2.2,3.7C1.2,3.7 0.6,4.4 0.5,5.2"/></g>
<g fill="#000"><rect x="285.55" y="238.60" width="1.4" height="1.4"/></g>
<g fill="none" stroke="#000" stroke-width="1.0"><path transform="translate(310.75,231.00) scale(1.045,1)" d="M0.5,0.5H3.9C2.6,2.8 1.8,5.5 1.7,8.5"/><path transform="translate(319.25,231.00) scale(1.045,1)" d="M2.2,4.3C1.1,4.3 0.6,3.6 0.6,2.4C0.6,1.2 1.2,0.5 2.2,0.5C3.2,0.5 3.8,1.2 3.8,2.4C3.8,3.6 3.3,4.3 2.2,4.3C1.1,4.3 0.5,5.1 0.5,6.4C0.5,7.8 1.1,8.5 2.2,8.5C3.3,8.5 3.9,7.8 3.9,6.4C3.9,5.1 3.3,4.3 2.2,4.3Z"/></g>
<g fill="#000"><rect x="316.05" y="238.60" width="1.4" height="1.4"/></g>
<g fill="none" stroke="#000" stroke-width="1.0"><path transform="translate(341.25,231.00) scale(1.045,1)" d="M2.2,4.3C1.1,4.3 0.6,3.6 0.6,2.4C0.6,1.2 1.2,0.5 2.2,0.5C3.2,0.5 3.8,1.2 3.8,2.4C3.8,3.6 3.3,4.3 2.2,4.3C1.1,4.3 0.5,5.1 0.5,6.4C0.5,7.8 1.1,8.5 2.2,8.5C3.3,8.5 3.9,7.8 3.9,6.4C3.9,5.1 3.3,4.3 2.2,4.3Z"/><path transform="translate(349.75,231.00) scale(1.045,1)" d="M2.2,0.5C3.4,0.5 3.9,1.5 3.9,3V6C3.9,7.5 3.4,8.5 2.2,8.5C1,8.5 0.5,7.5 0.5,6V3C0.5,1.5 1,0.5 2.2,0.5Z"/></g>
<g fill="#000"><rect x="346.55" y="238.60" width="1.4" height="1.4"/></g>
<g fill="none" stroke="#000" stroke-width="1.0"><path transform="translate(371.75,231.00) scale(1.045,1)" d="M2.2,4.3C1.1,4.3 0.6,3.6 0.6,2.4C0.6,1.2 1.2,0.5 2.2,0.5C3.2,0.5 3.8,1.2 3.8,2.4C3.8,3.6 3.3,4.3 2.2,4.3C1.1,4.3 0.5,5.1 0.5,6.4C0.5,7.8 1.1,8.5 2.2,8.5C3.3,8.5 3.9,7.8 3.9,6.4C3.9,5.1 3.3,4.3 2.2,4.3Z"/><path transform="translate(380.25,231.00) scale(1.045,1)" d="M0.5,2.7C0.5,1.2 1.2,0.5 2.2,0.5C3.3,0.5 3.9,1.2 3.9,2.5C3.9,3.9 3.1,4.7 2.1,5.7C1.1,6.7 0.5,7.4 0.5,8.5H4.1"/></g>
<g fill="#000"><rect x="377.05" y="238.60" width="1.4" height="1.4"/></g>
<g fill="none" stroke="#000" stroke-width="1.0"><path transform="translate(402.25,231.00) scale(1.045,1)" d="M2.2,4.3C1.1,4.3 0.6,3.6 0.6,2.4C0.6,1.2 1.2,0.5 2.2,0.5C3.2,0.5 3.8,1.2 3.8,2.4C3.8,3.6 3.3,4.3 2.2,4.3C1.1,4.3 0.5,5.1 0.5,6.4C0.5,7.8 1.1,8.5 2.2,8.5C3.3,8.5 3.9,7.8 3.9,6.4C3.9,5.1 3.3,4.3 2.2,4.3Z"/><path transform="translate(410.75,231.00) scale(1.045,1)" d="M3.1,8.5V0.5L0.4,6.3H4.3"/></g>
<g fill="#000"><rect x="407.55" y="238.60" width="1.4" height="1.4"/></g>
<g fill="none" stroke="#000" stroke-width="1.0"><path transform="translate(432.75,231.00) scale(1.045,1)" d="M2.2,4.3C1.1,4.3 0.6,3.6 0.6,2.4C0.6,1.2 1.2,0.5 2.2,0.5C3.2,0.5 3.8,1.2 3.8,2.4C3.8,3.6 3.3,4.3 2.2,4.3C1.1,4.3 0.5,5.1 0.5,6.4C0.5,7.8 1.1,8.5 2.2,8.5C3.3,8.5 3.9,7.8 3.9,6.4C3.9,5.1 3.3,4.3 2.2,4.3Z"/><path transform="translate(441.25,231.00) scale(1.045,1)" d="M3.8,2.2C3.6,1.1 3.1,0.5 2.2,0.5C1,0.5 0.5,2 0.5,4.5V6.2C0.5,7.7 1.1,8.5 2.2,8.5C3.3,8.5 3.9,7.7 3.9,6.2V5.8C3.9,4.4 3.3,3.7 2.2,3.7C1.2,3.7 0.6,4.4 0.5,5.2"/></g>
<g fill="#000"><rect x="438.05" y="238.60" width="1.4" height="1.4"/></g>
<g fill="none" stroke="#000" stroke-width="1.0"><path transform="translate(463.25,231.00) scale(1.045,1)" d="M2.2,4.3C1.1,4.3 0.6,3.6 0.6,2.4C0.6,1.2 1.2,0.5 2.2,0.5C3.2,0.5 3.8,1.2 3.8,2.4C3.8,3.6 3.3,4.3 2.2,4.3C1.1,4.3 0.5,5.1 0.5,6.4C0.5,7.8 1.1,8.5 2.2,8.5C3.3,8.5 3.9,7.8 3.9,6.4C3.9,5.1 3.3,4.3 2.2,4.3Z"/><path transform="translate(471.75,231.00) scale(1.045,1)" d="M2.2,4.3C1.1,4.3 0.6,3.6 0.6,2.4C0.6,1.2 1.2,0.5 2.2,0.5C3.2,0.5 3.8,1.2 3.8,2.4C3.8,3.6 3.3,4.3 2.2,4.3C1.1,4.3 0.5,5.1 0.5,6.4C0.5,7.8 1.1,8.5 2.2,8.5C3.3,8.5 3.9,7.8 3.9,6.4C3.9,5.1 3.3,4.3 2.2,4.3Z"/></g>
<g fill="#000"><rect x="468.55" y="238.60" width="1.4" height="1.4"/></g>
<g fill="none" stroke="#000" stroke-width="1.0"><path transform="translate(97.90,452.00) scale(1.045,1)" d="M3.1,8.5V0.5L0.4,6.3H4.3"/><path transform="translate(103.90,452.00) scale(1.045,1)" d="M2.2,0.5C3.4,0.5 3.9,1.5 3.9,3V6C3.9,7.5 3.4,8.5 2.2,8.5C1,8.5 0.5,7.5 0.5,6V3C0.5,1.5 1,0.5 2.2,0.5Z"/></g>
<g fill="none" stroke="#000" stroke-width="1.0"><path transform="translate(139.50,452.00) scale(1.045,1)" d="M3.1,8.5V0.5L0.4,6.3H4.3"/><path transform="translate(145.50,452.00) scale(1.045,1)" d="M0.9,2.4C1.9,2.1 2.6,1.4 2.8,0.5V8.5"/></g>
<g fill="none" stroke="#000" stroke-width="1.0"><path transform="translate(181.70,452.00) scale(1.045,1)" d="M3.1,8.5V0.5L0.4,6.3H4.3"/><path transform="translate(187.70,452.00) scale(1.045,1)" d="M0.5,2.7C0.5,1.2 1.2,0.5 2.2,0.5C3.3,0.5 3.9,1.2 3.9,2.5C3.9,3.9 3.1,4.7 2.1,5.7C1.1,6.7 0.5,7.4 0.5,8.5H4.1"/></g>
<g fill="none" stroke="#000" stroke-width="1.0"><path transform="translate(223.70,452.00) scale(1.045,1)" d="M3.1,8.5V0.5L0.4,6.3H4.3"/><path transform="translate(229.70,452.00) scale(1.045,1)" d="M0.5,2.4C0.6,1.1 1.2,0.5 2.2,0.5C3.3,0.5 3.8,1.2 3.8,2.4C3.8,3.6 3.2,4.3 1.9,4.3M1.9,4.3C3.3,4.3 3.9,5.1 3.9,6.4C3.9,7.8 3.3,8.5 2.2,8.5C1.1,8.5 0.5,7.8 0.5,6.5"/></g>
<g fill="none" stroke="#000" stroke-width="1.0"><path transform="translate(280.30,452.00) scale(1.045,1)" d="M0.5,2.7C0.5,1.2 1.2,0.5 2.2,0.5C3.3,0.5 3.9,1.2 3.9,2.5C3.9,3.9 3.1,4.7 2.1,5.7C1.1,6.7 0.5,7.4 0.5,8.5H4.1"/><path transform="translate(286.30,452.00) scale(1.045,1)" d="M3.1,8.5V0.5L0.4,6.3H4.3"/></g>
<g fill="none" stroke="#000" stroke-width="1.0"><path transform="translate(316.90,452.00) scale(1.045,1)" d="M0.5,2.7C0.5,1.2 1.2,0.5 2.2,0.5C3.3,0.5 3.9,1.2 3.9,2.5C3.9,3.9 3.1,4.7 2.1,5.7C1.1,6.7 0.5,7.4 0.5,8.5H4.1"/><path transform="translate(322.90,452.00) scale(1.045,1)" d="M3.8,2.2C3.6,1.1 3.1,0.5 2.2,0.5C1,0.5 0.5,2 0.5,4.5V6.2C0.5,7.7 1.1,8.5 2.2,8.5C3.3,8.5 3.9,7.7 3.9,6.2V5.8C3.9,4.4 3.3,3.7 2.2,3.7C1.2,3.7 0.6,4.4 0.5,5.2"/></g>
<g fill="none" stroke="#000" stroke-width="1.0"><path transform="translate(353.50,452.00) scale(1.045,1)" d="M0.5,2.7C0.5,1.2 1.2,0.5 2.2,0.5C3.3,0.5 3.9,1.2 3.9,2.5C3.9,3.9 3.1,4.7 2.1,5.7C1.1,6.7 0.5,7.4 0.5,8.5H4.1"/><path transform="translate(359.50,452.00) scale(1.045,1)" d="M2.2,4.3C1.1,4.3 0.6,3.6 0.6,2.4C0.6,1.2 1.2,0.5 2.2,0.5C3.2,0.5 3.8,1.2 3.8,2.4C3.8,3.6 3.3,4.3 2.2,4.3C1.1,4.3 0.5,5.1 0.5,6.4C0.5,7.8 1.1,8.5 2.2,8.5C3.3,8.5 3.9,7.8 3.9,6.4C3.9,5.1 3.3,4.3 2.2,4.3Z"/></g>
<g fill="none" stroke="#000" stroke-width="1.0"><path transform="translate(390.10,452.00) scale(1.045,1)" d="M0.5,2.4C0.6,1.1 1.2,0.5 2.2,0.5C3.3,0.5 3.8,1.2 3.8,2.4C3.8,3.6 3.2,4.3 1.9,4.3M1.9,4.3C3.3,4.3 3.9,5.1 3.9,6.4C3.9,7.8 3.3,8.5 2.2,8.5C1.1,8.5 0.5,7.8 0.5,6.5"/><path transform="translate(396.10,452.00) scale(1.045,1)" d="M2.2,0.5C3.4,0.5 3.9,1.5 3.9,3V6C3.9,7.5 3.4,8.5 2.2,8.5C1,8.5 0.5,7.5 0.5,6V3C0.5,1.5 1,0.5 2.2,0.5Z"/></g>
<g fill="none" stroke="#000" stroke-width="1.0"><path transform="translate(426.70,452.00) scale(1.045,1)" d="M0.5,2.4C0.6,1.1 1.2,0.5 2.2,0.5C3.3,0.5 3.8,1.2 3.8,2.4C3.8,3.6 3.2,4.3 1.9,4.3M1.9,4.3C3.3,4.3 3.9,5.1 3.9,6.4C3.9,7.8 3.3,8.5 2.2,8.5C1.1,8.5 0.5,7.8 0.5,6.5"/><path transform="translate(432.70,452.00) scale(1.045,1)" d="M0.5,2.7C0.5,1.2 1.2,0.5 2.2,0.5C3.3,0.5 3.9,1.2 3.9,2.5C3.9,3.9 3.1,4.7 2.1,5.7C1.1,6.7 0.5,7.4 0.5,8.5H4.1"/></g>
<g fill="none" stroke="#000" stroke-width="1.0"><path transform="translate(463.30,452.00) scale(1.045,1)" d="M0.5,2.4C0.6,1.1 1.2,0.5 2.2,0.5C3.3,0.5 3.8,1.2 3.8,2.4C3.8,3.6 3.2,4.3 1.9,4.3M1.9,4.3C3.3,4.3 3.9,5.1 3.9,6.4C3.9,7.8 3.3,8.5 2.2,8.5C1.1,8.5 0.5,7.8 0.5,6.5"/><path transform="translate(469.30,452.00) scale(1.045,1)" d="M3.1,8.5V0.5L0.4,6.3H4.3"/></g>
<text transform="translate(124.3,256.8) scale(0.72,1)" font-size="13.8" font-weight="bold" letter-spacing="1.036">OXYGEN, IN MG/L</text>
<text transform="translate(370.3,256.8) scale(0.77,1)" font-size="13.8" font-weight="bold" letter-spacing="1.074">pH</text>
<text transform="translate(80.8,478.7) scale(0.72,1)" font-size="13.8" font-weight="bold" letter-spacing="0.942">RESIDUE-ON-EVAPORATION, IN G/L</text>
<text transform="translate(318.3,478.7) scale(0.72,1)" font-size="13.8" font-weight="bold" letter-spacing="1.001">TEMPERATURE, IN °C</text>
<path d="M113,21H116V22H117V23H118V26H117V27H116V28H113V27H112V26H111V23H112V22H113Z" fill="#000"/><path d="M113,22H116V23H117V26H116V27H113V26H112V23H113Z" fill="#ee1f27"/>
<text x="120.5" y="28.6" font-size="13.2" stroke="#000" stroke-width="0.6" textLength="124" lengthAdjust="spacingAndGlyphs">South Basin (Site 1)</text>
<path d="M324,21H327V22H328V23H329V26H328V27H327V28H324V27H323V26H322V23H323V22H324Z" fill="#000"/><path d="M324,22H327V23H328V26H327V27H324V26H323V23H324Z" fill="#1f6bbd"/>
<text x="331.5" y="28.6" font-size="13.2" stroke="#000" stroke-width="0.6" textLength="122" lengthAdjust="spacingAndGlyphs">North Basin (Site 9)</text>
<text transform="translate(54.0,384.2) rotate(-90) scale(0.64,1)" font-size="20.0" font-weight="bold" letter-spacing="1.065">DEPTH, IN FEET BELOW SEA SURFACE</text></g>
</svg>
</body></html>
